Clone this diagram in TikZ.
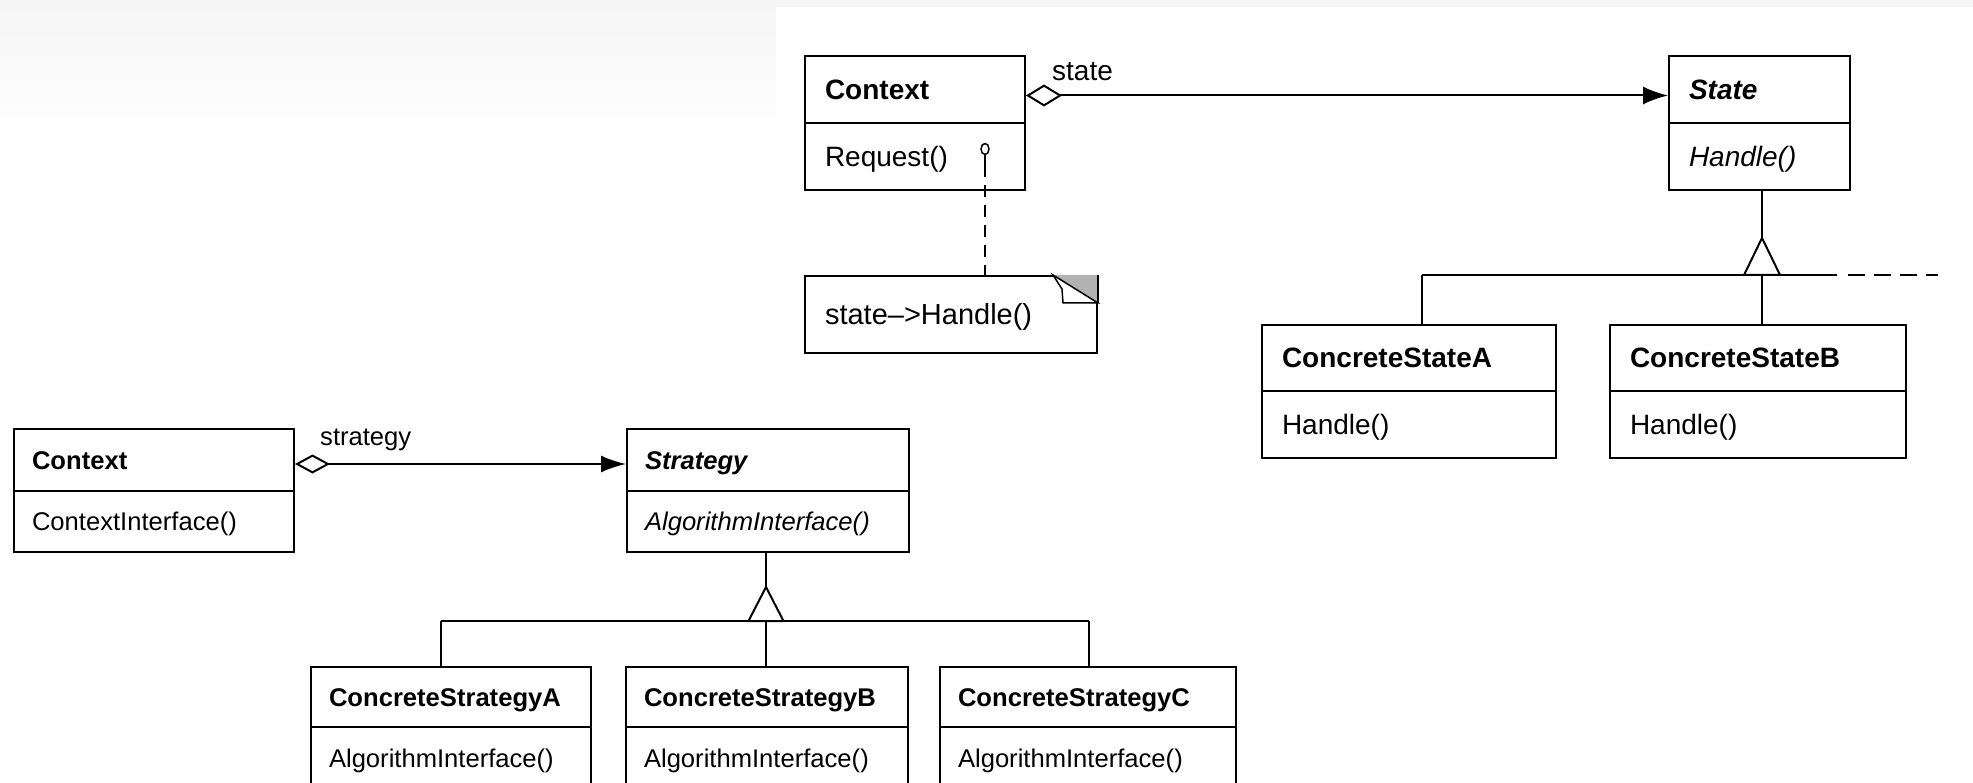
\documentclass[tikz,border=0pt]{standalone}
\usepackage{fontspec}
\setmainfont{Liberation Sans}
\usetikzlibrary{arrows.meta,shapes.geometric}

% text sizes of the two class diagrams
\newcommand\bigtxt{\fontsize{28pt}{32pt}\selectfont}
\newcommand\smalltxt{\fontsize{25.6pt}{30pt}\selectfont}

\tikzset{
  every node/.style={inner sep=0pt},
  uml/.style={line width=2pt},
  part/.style={draw, line width=2pt, anchor=north west, align=left, inner ysep=0pt, text depth=0pt},
  % compartments of the State diagram
  bigpart/.style={part, font=\bigtxt, text height=20pt, inner xsep=20pt},
  % compartments of the Strategy diagram
  smallpart/.style={part, font=\smalltxt, text height=18.3pt, inner xsep=18pt},
  assoc/.style={uml, {Diamond[open,length=36pt,width=22pt]}-{Latex[length=25pt,width=18pt]}},
  assocsmall/.style={uml, {Diamond[open,length=35pt,width=19pt]}-{Latex[length=25pt,width=17pt]}},
  inherit/.style={uml, fill=white, line join=miter},
  trail/.style={uml, dash pattern=on 17pt off 9pt},
  notelink/.style={uml, dash pattern=on 22pt off 8pt on 12pt off 8pt on 12pt off 8pt on 12pt off 8pt on 12pt off 8pt on 12pt off 8pt}
}

\begin{document}
\begin{tikzpicture}[x=1pt, y=-1pt]
  \useasboundingbox (0,0) rectangle (1973,783);

  % page background: faint grey band fading out, white sheet on the right
  \fill[top color=gray!8, bottom color=white] (0,0) rectangle (1973,135);
  \fill[white] (776,7) rectangle (1973,783);

  % ---------------- State pattern ----------------
  \node[bigpart, text width=180pt, minimum height=67pt, font=\bigtxt\bfseries] (ctxN) at (804,55) {Context};
  \node[bigpart, text width=180pt, minimum height=67pt] (ctxO) at (804,122) {Request()};

  \node[bigpart, text width=141pt, minimum height=67pt, font=\bigtxt\bfseries\itshape] (stN) at (1668,55) {State};
  \node[bigpart, text width=141pt, minimum height=67pt, font=\bigtxt\itshape] (stO) at (1668,122) {Handle()};

  \node[bigpart, text width=254pt, minimum height=66pt, font=\bigtxt\bfseries] (csAN) at (1261,324) {ConcreteStateA};
  \node[bigpart, text width=254pt, minimum height=67pt] (csAO) at (1261,390) {Handle()};

  \node[bigpart, text width=256pt, minimum height=66pt, font=\bigtxt\bfseries] (csBN) at (1609,324) {ConcreteStateB};
  \node[bigpart, text width=256pt, minimum height=67pt] (csBO) at (1609,390) {Handle()};

  % note attached to Request()
  \node[bigpart, text width=252pt, minimum height=77pt, font=\fontsize{29pt}{33pt}\selectfont] (note) at (804,275) {state–>Handle()};
  \fill[gray!60] ([xshift=-45pt]note.north east) -- (note.north east) -- ([yshift=-28pt]note.north east) -- cycle;
  \draw[line width=1.5pt, fill=white, line join=miter]
    ([xshift=-45pt]note.north east) -- ([xshift=-36pt,yshift=-14pt]note.north east)
    -- ([xshift=-35pt,yshift=-28pt]note.north east) -- ([yshift=-28pt]note.north east) -- cycle;
  \draw[uml] (note.north east) -- ([yshift=-28pt]note.north east);

  \node[ellipse, draw, line width=1.5pt, minimum width=8pt, minimum height=11pt, fill=white] (lolli) at (985,149) {};
  \draw[notelink] (lolli.south) -- (lolli.south |- note.north);

  % association Context -> State
  \draw[assoc] ([yshift=-6pt]ctxN.east) -- ([yshift=-6pt]stN.west);
  \node[font=\bigtxt, anchor=west] (lblState) at (1052,72) {state};

  % generalisation State <- ConcreteStateA/B
  \coordinate (sj) at (1762,275);
  \coordinate (sjA) at (1422,275);
  \coordinate (sjEnd) at (1837,275);
  \coordinate (sjDashA) at (1848,275);
  \coordinate (sjDashB) at (1938,275);
  \draw[uml] (sj |- stO.south) -- ([yshift=37pt]sj);
  \draw[inherit] ([yshift=37pt]sj) -- ([xshift=-18pt]sj) -- ([xshift=18pt]sj) -- cycle;
  \draw[uml] (sjA) -- (sjEnd);
  \draw[trail] (sjDashA) -- (sjDashB);
  \draw[uml] (sjA) -- (sjA |- csAN.north);
  \draw[uml] (sj) -- (sj |- csBN.north);

  % ---------------- Strategy pattern ----------------
  \node[smallpart, text width=244pt, minimum height=62pt, font=\smalltxt\bfseries] (ctx2N) at (13,428) {Context};
  \node[smallpart, text width=244pt, minimum height=61pt] (ctx2O) at (13,490) {ContextInterface()};

  \node[smallpart, text width=246pt, minimum height=62pt, font=\smalltxt\bfseries\itshape] (sgN) at (626,428) {Strategy};
  \node[smallpart, text width=246pt, minimum height=61pt, font=\smalltxt\itshape] (sgO) at (626,490) {AlgorithmInterface()};

  \node[smallpart, text width=244pt, minimum height=60pt, font=\smalltxt\bfseries] (csaN) at (310,666) {ConcreteStrategyA};
  \node[smallpart, text width=244pt, minimum height=62pt] (csaO) at (310,726) {AlgorithmInterface()};

  \node[smallpart, text width=246pt, minimum height=60pt, font=\smalltxt\bfseries] (csbN) at (625,666) {ConcreteStrategyB};
  \node[smallpart, text width=246pt, minimum height=62pt] (csbO) at (625,726) {AlgorithmInterface()};

  \node[smallpart, text width=260pt, minimum height=60pt, font=\smalltxt\bfseries] (cscN) at (939,666) {ConcreteStrategyC};
  \node[smallpart, text width=260pt, minimum height=62pt] (cscO) at (939,726) {AlgorithmInterface()};

  % association Context -> Strategy
  \draw[assocsmall] ([yshift=-4pt]ctx2N.east) -- ([yshift=-4pt]sgN.west);
  \node[font=\smalltxt, anchor=west] (lblStrategy) at (320,440) {strategy};

  % generalisation Strategy <- ConcreteStrategyA/B/C
  \coordinate (gj) at (766,621);
  \coordinate (gjA) at (441,621);
  \coordinate (gjC) at (1089,621);
  \draw[uml] (gj |- sgO.south) -- ([yshift=34pt]gj);
  \draw[inherit] ([yshift=34pt]gj) -- ([xshift=-17.5pt]gj) -- ([xshift=17.5pt]gj) -- cycle;
  \draw[uml] (gjA) -- (gjC);
  \draw[uml] (gjA) -- (gjA |- csaN.north);
  \draw[uml] (gj) -- (gj |- csbN.north);
  \draw[uml] (gjC) -- (gjC |- cscN.north);
\end{tikzpicture}
\end{document}
